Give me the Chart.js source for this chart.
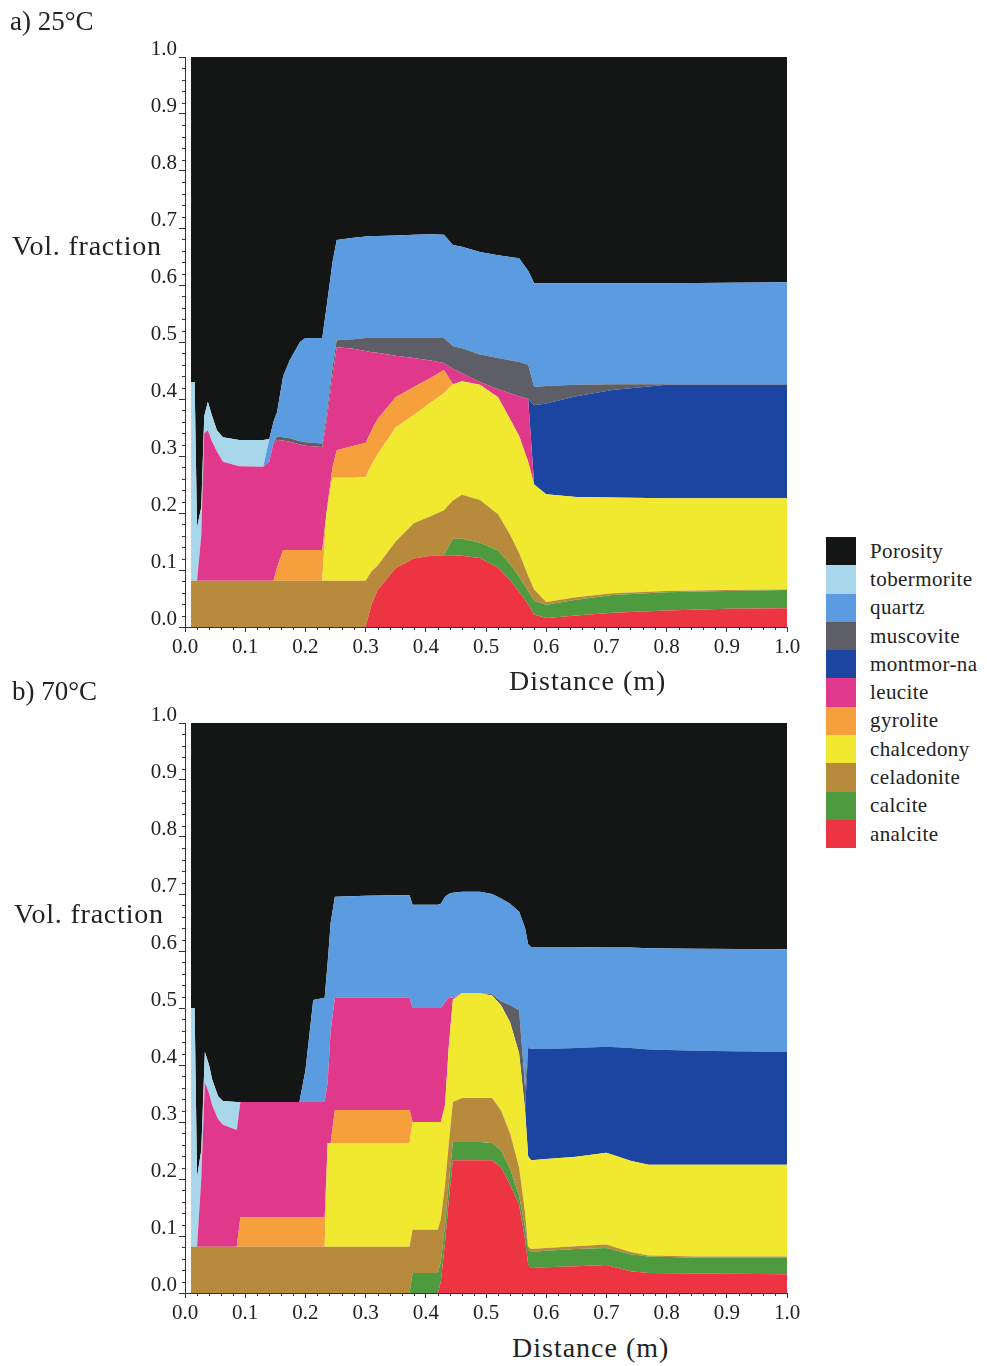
<!DOCTYPE html>
<html>
<head>
<meta charset="utf-8">
<script src="https://cdn.jsdelivr.net/npm/chart.js@4/dist/chart.umd.min.js"></script>
<style>
  html,body{margin:0;padding:0;background:#fff;}
  body{width:987px;height:1366px;position:relative;overflow:hidden;font-family:"Liberation Serif","DejaVu Serif",serif;color:#222;}
  canvas{position:absolute;left:0;}
  .t{position:absolute;white-space:nowrap;line-height:1;}
  #legend{position:absolute;left:826px;top:537px;}
  .lrow{height:28.3px;display:flex;align-items:center;}
  .lbox{width:30px;height:28.3px;}
  .ltxt{margin-left:14px;font-size:21px;letter-spacing:0.4px;}
</style>
</head>
<body>
<canvas id="ca" width="820" height="665" style="top:0px"></canvas>
<canvas id="cb" width="820" height="665" style="top:666px"></canvas>
<div class="t" style="left:10px;top:8px;font-size:27px;">a) 25°C</div>
<div class="t" style="left:12px;top:232px;font-size:28px;letter-spacing:0.8px;">Vol. fraction</div>
<div class="t" style="left:509px;top:667px;font-size:28px;letter-spacing:1px;">Distance (m)</div>
<div class="t" style="left:12px;top:678px;font-size:27px;">b) 70°C</div>
<div class="t" style="left:14px;top:900px;font-size:28px;letter-spacing:0.8px;">Vol. fraction</div>
<div class="t" style="left:512px;top:1334px;font-size:28px;letter-spacing:1px;">Distance (m)</div>
<div id="legend"></div>
<script>
// ---------- names & colours (bottom of stack first) ----------
const mineralNames = ["analcite","calcite","celadonite","chalcedony","gyrolite","leucite","montmor-na","muscovite","quartz","tobermorite","Porosity"];
const mineralColors = ["#ec3443","#4e9a3e","#b88a3c","#f1e92f","#f5a03c","#e0388b","#1c45a2","#5e5e66","#5b9be0","#a8d6ea","#141616"];
const xTickLabels = ["0.0","0.1","0.2","0.3","0.4","0.5","0.6","0.7","0.8","0.9","1.0"];
const yTickLabels = ["0.0","0.1","0.2","0.3","0.4","0.5","0.6","0.7","0.8","0.9","1.0"];

// ---------- a) 25°C ----------
const distanceA = [0.010,0.016,0.020,0.027,0.032,0.038,0.045,0.053,0.063,0.09,0.13,0.14,0.147,0.153,0.163,0.174,0.191,0.20,0.228,0.235,0.245,0.252,0.28,0.30,0.31,0.32,0.35,0.38,0.41,0.43,0.445,0.46,0.49,0.52,0.54,0.555,0.57,0.58,0.60,0.65,0.71,0.80,0.90,1.0];
const analciteA   = [0,0,0,0,0,0,0,0,0,0,0,0,0,0,0,0,0,0,0,0,0,0,0,0,.04,.065,.103,.12,.125,.126,.126,.125,.121,.104,.082,.062,.04,.022,.016,.02,.025,.029,.032,.033];
const calciteA    = [0,0,0,0,0,0,0,0,0,0,0,0,0,0,0,0,0,0,0,0,0,0,0,0,0,0,0,0,0,0,.029,.03,.027,.03,.028,.026,.023,.024,.023,.028,.031,.032,.031,.032];
const celadoniteA = [.081,.081,.081,.081,.081,.081,.081,.081,.081,.081,.081,.081,.081,.081,.081,.081,.081,.081,.081,.081,.081,.081,.081,.081,.058,.043,.047,.062,.07,.079,.067,.077,.075,.064,.052,.042,.027,.02,.005,.004,.003,.002,.002,.001];
const chalcedonyA = [0,0,0,0,0,0,0,0,0,0,0,0,0,0,0,0,0,0,0,.119,.181,.181,.181,.182,.187,.195,.20,.19,.20,.205,.204,.199,.202,.205,.203,.205,.20,.184,.189,.176,.168,.163,.161,.16];
const gyroliteA   = [0,0,0,0,0,0,0,0,0,0,0,0,0,.024,.054,.054,.054,.054,.054,0,.018,.048,.056,.06,.06,.062,.053,.049,.043,.041,0,0,0,0,0,0,0,0,0,0,0,0,0,0];
const leuciteA    = [0,0,0,.079,.259,.264,.244,.227,.209,.201,.20,.209,.242,.223,.192,.19,.185,.183,.181,.16,.16,.181,.17,.161,.137,.116,.073,.051,.029,.012,.027,.014,.005,.014,.045,.07,.11,0,0,0,0,0,0,0];
const montmorA    = [0,0,0,0,0,0,0,0,0,0,0,0,0,0,0,0,0,0,0,0,0,0,0,0,0,0,0,0,0,0,0,0,0,0,0,0,0,.139,.159,.177,.189,.199,.199,.199];
const muscoviteA  = [0,0,0,0,0,0,0,0,0,0,0,0,0,.006,.006,.006,.006,.006,.006,.01,.015,.012,.017,.023,.025,.026,.031,.035,.04,.044,.04,.044,.048,.055,.058,.06,.06,.032,.031,.02,.01,.001,.001,.001];
const quartzA     = [0,0,0,0,0,0,0,0,0,0,0,.04,.037,.043,.107,.137,.174,.183,.185,.19,.185,.176,.178,.178,.179,.179,.18,.181,.182,.181,.177,.178,.18,.18,.181,.182,.165,.182,.18,.178,.177,.177,.178,.179];
const tobermoriteA= [.349,.349,.094,.05,.03,.05,.045,.037,.043,.046,.047,0,0,0,0,0,0,0,0,0,0,0,0,0,0,0,0,0,0,0,0,0,0,0,0,0,0,0,0,0,0,0,0,0];
const porosityA   = [.57,.57,.825,.79,.63,.605,.63,.655,.667,.672,.672,.67,.64,.623,.56,.532,.50,.493,.493,.44,.36,.321,.317,.315,.314,.314,.313,.312,.311,.312,.33,.333,.342,.348,.351,.353,.375,.397,.397,.397,.397,.397,.396,.395];

// ---------- b) 70°C ----------
const distanceB = [0.010,0.016,0.020,0.027,0.033,0.040,0.045,0.055,0.063,0.086,0.092,0.19,0.20,0.213,0.232,0.237,0.242,0.249,0.30,0.35,0.373,0.378,0.42,0.425,0.432,0.438,0.445,0.46,0.49,0.51,0.525,0.54,0.555,0.565,0.57,0.575,0.60,0.65,0.70,0.74,0.77,0.85,1.0];
const analciteB   = [0,0,0,0,0,0,0,0,0,0,0,0,0,0,0,0,0,0,0,0,0,0,0,.02,.09,.16,.233,.233,.233,.233,.22,.19,.155,.093,.05,.044,.045,.047,.049,.038,.035,.034,.033];
const calciteB    = [0,0,0,0,0,0,0,0,0,0,0,0,0,0,0,0,0,0,0,0,0,.035,.035,.035,.03,.03,.032,.032,.032,.03,.03,.028,.015,.022,.027,.028,.029,.03,.03,.03,.029,.028,.029];
const celadoniteB = [.081,.081,.081,.081,.081,.081,.081,.081,.081,.081,.081,.081,.081,.081,.081,.081,.081,.081,.081,.081,.081,.076,.076,.075,.07,.07,.07,.077,.077,.079,.07,.062,.05,.025,.004,.005,.005,.005,.006,.004,.002,.002,.002];
const chalcedonyB = [0,0,0,0,0,0,0,0,0,0,0,0,0,0,0,.182,.182,.182,.182,.182,.182,.189,.189,.17,.14,.17,.18,.184,.184,.18,.185,.195,.20,.18,.159,.156,.156,.157,.161,.16,.159,.161,.161];
const gyroliteB   = [0,0,0,0,0,0,0,0,0,0,.052,.052,.052,.052,.052,0,0,.058,.058,.058,.058,0,0,0,0,0,0,0,0,0,0,0,0,0,0,0,0,0,0,0,0,0,0];
const leuciteB    = [0,0,0,.119,.289,.269,.249,.224,.214,.205,.202,.202,.202,.202,.202,.107,.197,.197,.197,.197,.197,.20,.20,.20,.18,.088,.003,0,0,0,0,0,0,0,0,0,0,0,0,0,0,0,0];
const montmorB    = [0,0,0,0,0,0,0,0,0,0,0,0,0,0,0,0,0,0,0,0,0,0,0,0,0,0,0,0,0,0,0,0,0,0,.19,.195,.193,.191,.186,.198,.202,.20,.198];
const muscoviteB  = [0,0,0,0,0,0,0,0,0,0,0,0,0,0,0,0,0,0,0,0,0,0,0,0,0,0,0,0,0,.002,.007,.03,.076,.04,.002,0,0,0,0,0,0,0,0];
const quartzB     = [0,0,0,0,0,0,0,0,0,0,0,0,.055,.179,.183,.21,.19,.177,.179,.18,.18,.181,.181,.183,.185,.182,.184,.178,.178,.176,.18,.178,.173,.28,.18,.179,.179,.177,.174,.176,.178,.179,.18];
const tobermoriteB= [.419,.419,.123,.05,.053,.05,.045,.04,.042,.049,0,0,0,0,0,0,0,0,0,0,0,0,0,0,0,0,0,0,0,0,0,0,0,0,0,0,0,0,0,0,0,0,0];
const porosityB   = [.50,.50,.796,.75,.577,.60,.625,.655,.663,.665,.665,.665,.61,.486,.482,.42,.35,.305,.303,.302,.302,.319,.319,.317,.305,.30,.298,.296,.296,.30,.308,.317,.331,.36,.388,.393,.393,.393,.394,.394,.395,.396,.397];

const seriesA = [analciteA,calciteA,celadoniteA,chalcedonyA,gyroliteA,leuciteA,montmorA,muscoviteA,quartzA,tobermoriteA,porosityA];
const seriesB = [analciteB,calciteB,celadoniteB,chalcedonyB,gyroliteB,leuciteB,montmorB,muscoviteB,quartzB,tobermoriteB,porosityB];

// ---------- legend ----------
const leg = document.getElementById('legend');
for (let i = mineralNames.length - 1; i >= 0; i--) {
  const r = document.createElement('div'); r.className = 'lrow';
  const b = document.createElement('div'); b.className = 'lbox'; b.style.background = mineralColors[i];
  const t = document.createElement('div'); t.className = 'ltxt'; t.textContent = mineralNames[i];
  r.appendChild(b); r.appendChild(t); leg.appendChild(r);
}

// ---------- minor tick plugin ----------
const minorTicks = {
  id: 'minorTicks',
  afterDraw(chart) {
    const ctx = chart.ctx, xs = chart.scales.x, ys = chart.scales.y;
    ctx.save();
    ctx.strokeStyle = '#333'; ctx.lineWidth = 1;
    ctx.beginPath();
    for (let k = 0; k <= 50; k++) {
      if (k % 5 === 0) continue;
      const v = k / 50;
      const py = Math.round(ys.getPixelForValue(v)) + 0.5;
      ctx.moveTo(ys.right - 3, py); ctx.lineTo(ys.right, py);
      const px = Math.round(xs.getPixelForValue(v)) + 0.5;
      ctx.moveTo(px, xs.top); ctx.lineTo(px, xs.top + 3);
    }
    ctx.stroke();
    ctx.restore();
  }
};

const tickFont = {family: '"Liberation Serif","DejaVu Serif",serif', size: 21};

function makeChart(id, xs, series) {
  const datasets = series.map((arr, i) => ({
    label: mineralNames[i],
    data: xs.map((x, j) => ({x: x, y: arr[j]})),
    backgroundColor: mineralColors[i],
    borderColor: mineralColors[i],
    borderWidth: 0,
    pointRadius: 0,
    tension: 0,
    fill: i === 0 ? 'origin' : '-1'
  }));
  return new Chart(document.getElementById(id), {
    type: 'line',
    data: {datasets},
    plugins: [minorTicks],
    options: {
      responsive: false, animation: false, events: [],
      layout: {padding: {top: 57, right: 33, left: 0, bottom: 0}},
      plugins: {legend: {display: false}, tooltip: {enabled: false}, filler: {propagate: false}},
      scales: {
        x: {
          type: 'linear', min: 0, max: 1,
          ticks: {stepSize: 0.1, color: '#222', font: tickFont, padding: 3, maxRotation: 0,
                  callback: (v) => xTickLabels[Math.round(v * 10)]},
          grid: {drawOnChartArea: false, drawTicks: true, tickLength: 5, color: '#333'},
          border: {display: true, color: '#333', width: 1},
          afterFit: (s) => { s.height = 38; }
        },
        y: {
          stacked: true, min: 0, max: 1,
          ticks: {stepSize: 0.1, color: '#222', font: tickFont, padding: 2, labelOffset: -8,
                  callback: (v) => yTickLabels[Math.round(v * 10)]},
          grid: {drawOnChartArea: false, drawTicks: true, tickLength: 6, color: '#333'},
          border: {display: true, color: '#333', width: 1},
          afterFit: (s) => { s.width = 185; }
        }
      }
    }
  });
}

makeChart('ca', distanceA, seriesA);
makeChart('cb', distanceB, seriesB);
</script>
</body>
</html>
